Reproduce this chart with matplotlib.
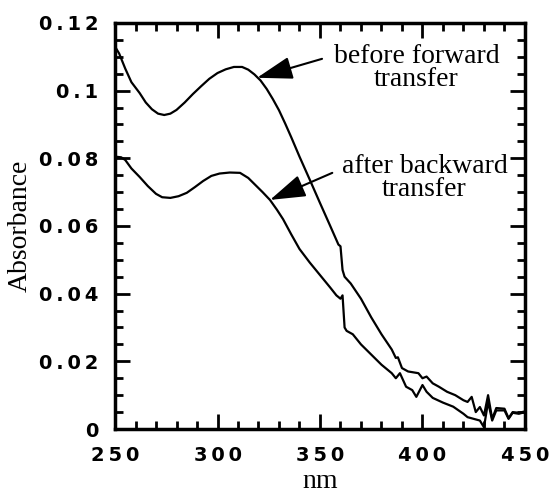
import matplotlib
matplotlib.use("Agg")
import matplotlib.pyplot as plt
from matplotlib.ticker import MultipleLocator

# spectrum before forward transfer
wl_before = [250, 252, 255, 258, 262, 265, 268, 271, 274, 277, 280, 284, 288,
             292, 296, 300, 304, 308, 312, 315, 318, 321, 324, 327, 330, 333,
             336, 340, 345, 350, 355, 359, 360, 361, 362, 365, 370, 375, 380,
             385, 387, 388, 390, 393, 398, 400, 402, 405, 408, 412, 416, 420,
             422, 424, 426, 428, 430, 432, 434, 436, 440, 442, 444, 447, 450]
abs_before = [0.113, 0.111, 0.1065, 0.1025, 0.0993, 0.0965, 0.0945, 0.0932,
              0.0928, 0.0932, 0.0943, 0.0965, 0.0990, 0.1013, 0.1035, 0.1052,
              0.1063, 0.1070, 0.1070, 0.1062, 0.1048, 0.1030, 0.1005, 0.0975,
              0.0942, 0.0903, 0.0862, 0.0805, 0.0737, 0.0668, 0.0600, 0.0545,
              0.0540, 0.0470, 0.0450, 0.0430, 0.0385, 0.0330, 0.0280, 0.0235,
              0.0210, 0.0212, 0.0180, 0.0170, 0.0165, 0.0150, 0.0155, 0.0135,
              0.0125, 0.0110, 0.0100, 0.0085, 0.0080, 0.0095, 0.0050, 0.0065,
              0.0040, 0.0100, 0.0030, 0.0062, 0.0060, 0.0032, 0.0050, 0.0048,
              0.0052]

# spectrum after backward transfer
wl_after = [250, 253, 255, 258, 262, 266, 270, 273, 277, 281, 285, 289, 293,
            297, 301, 306, 311, 315, 319, 322, 325.6, 329, 332, 336, 340, 345,
            350, 355, 358, 360, 361, 362, 363, 366, 370, 375, 380, 385, 387,
            389, 392, 395, 397, 400, 402, 405, 410, 415, 420, 422, 425, 428,
            430, 432, 434, 436, 440, 442, 444, 447, 450]
abs_after = [0.0805, 0.0803, 0.0795, 0.0770, 0.0745, 0.0718, 0.0695, 0.0685,
             0.0683, 0.0688, 0.0698, 0.0715, 0.0733, 0.0748, 0.0755, 0.0758,
             0.0757, 0.0742, 0.0718, 0.0700, 0.0677, 0.0648, 0.0620, 0.0575,
             0.0532, 0.0492, 0.0455, 0.0418, 0.0395, 0.0385, 0.0395, 0.0300,
             0.0290, 0.0280, 0.0250, 0.0220, 0.0190, 0.0165, 0.0150, 0.0165,
             0.0125, 0.0115, 0.0095, 0.0130, 0.0110, 0.0092, 0.0078, 0.0066,
             0.0045, 0.0035, 0.0030, 0.0025, 0.0005, 0.0080, 0.0025, 0.0055,
             0.0055, 0.0030, 0.0048, 0.0045, 0.0050]

x_ticks = [250, 300, 350, 400, 450]
x_labels = ["250", "300", "350", "400", "450"]
y_ticks = [0, 0.02, 0.04, 0.06, 0.08, 0.1, 0.12]
y_labels = ["0", "0.02", "0.04", "0.06", "0.08", "0.1", "0.12"]


def spaced(s):
    return "\u2009".join(s)


fig = plt.figure(figsize=(5.54, 4.97), dpi=100)
ax = fig.add_axes([0.2076, 0.1368, 0.740, 0.817])

ax.plot(wl_before, abs_before, color="black", lw=1.6)
ax.plot(wl_after, abs_after, color="black", lw=1.6)

ax.set_xlim(250, 450)
ax.set_ylim(0, 0.12)

tick_font = dict(family="DejaVu Sans", weight="bold", size=14)
ax.set_xticks(x_ticks)
ax.set_xticklabels([spaced(s) for s in x_labels], **tick_font)
ax.set_yticks(y_ticks)
ax.set_yticklabels([spaced(s) for s in y_labels], **tick_font)
ax.xaxis.set_minor_locator(MultipleLocator(10))
ax.yaxis.set_minor_locator(MultipleLocator(0.005))

ax.tick_params(which="both", direction="in", top=True, right=True, width=2)
ax.tick_params(which="major", length=11, pad=12)
ax.tick_params(which="minor", length=6)
for sp in ax.spines.values():
    sp.set_linewidth(2.5)

label_font = dict(family="Liberation Serif", size=20)
ax.set_xlabel("nm", labelpad=3, **label_font)
ax.set_ylabel("Absorbance", labelpad=4, **label_font)

arrow = dict(arrowstyle="-|>,head_length=1.1,head_width=0.35",
             mutation_scale=20, lw=1.5, color="black",
             shrinkA=0, shrinkB=0)
ax.annotate("", xy=(319.3, 0.1038), xytext=(351, 0.1094), arrowprops=arrow)
ax.annotate("", xy=(325.6, 0.0677), xytext=(356, 0.0757), arrowprops=arrow)

ann_font = dict(family="Liberation Serif", size=20)
ax.text(397, 0.1067, "before forward\ntransfer", ha="center", va="center",
        linespacing=0.9, **ann_font)
ax.text(401, 0.0742, "after backward\ntransfer", ha="center", va="center",
        linespacing=0.9, **ann_font)

fig.savefig("out.png", dpi=100)
